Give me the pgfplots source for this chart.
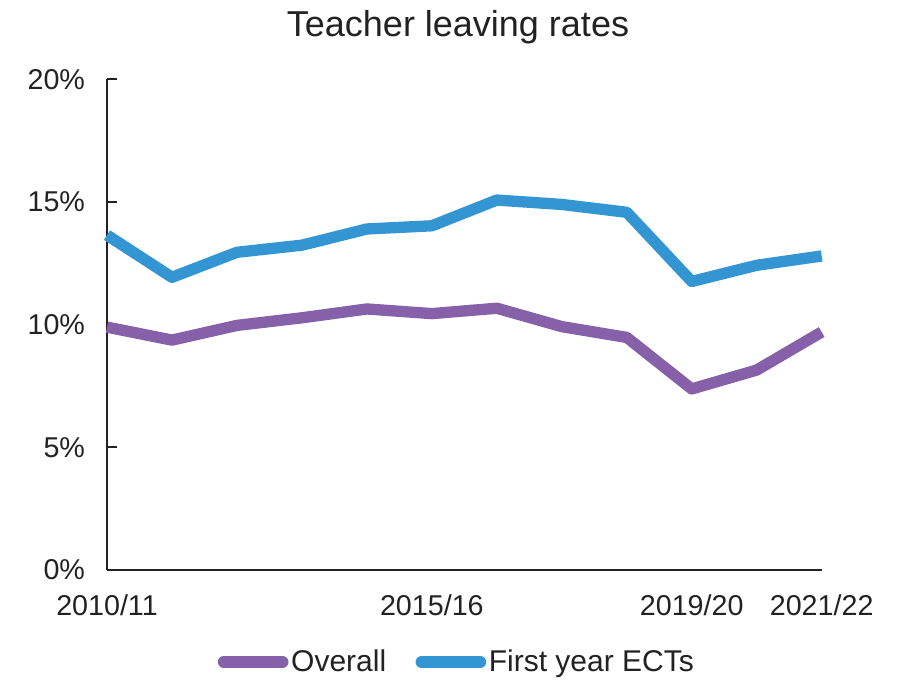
\documentclass[border=0pt]{standalone}
\usepackage{pgfplots}
\pgfplotsset{compat=1.18}
\usepackage{fontspec}
\setmainfont{Liberation Sans}
\definecolor{cpurple}{HTML}{8660A8}
\definecolor{cblue}{HTML}{3396D3}
\definecolor{axgray}{HTML}{222222}
\begin{document}
\begin{tikzpicture}[x=1pt,y=1pt]
\useasboundingbox (-80.25,-86.25) rectangle (593.25,427.5);
\begin{axis}[
  at={(0,0)}, anchor=origin,
  scale only axis,
  width=536pt, height=368pt,
  xmin=0, xmax=11, ymin=0, ymax=20,
  axis x line*=bottom, axis y line*=left,
  axis line style={line width=1.4pt, color=axgray, -},
  xtick={0,5,9,11},
  xticklabels={2010/11,2015/16,2019/20,2021/22},
  major x tick style={draw=none},
  ytick={0,5,10,15,20},
  yticklabel={\pgfmathprintnumber{\tick}\%},
  tick align=inside,
  major tick length=7.5pt,
  major y tick style={line width=1.4pt, color=axgray},
  /pgf/number format/assume math mode=true,
  tick label style={font=\fontsize{21.5}{24}\selectfont, text=axgray},
  yticklabel style={xshift=-13pt},
  xticklabel style={yshift=-15pt},
  clip=false,
  legend style={draw=none, fill=none, at={(0.49,-0.1875)}, anchor=center, legend columns=2,
    font=\fontsize{22.5}{25}\selectfont, text=axgray, inner sep=0pt,
    /tikz/every even column/.append style={column sep=20pt}},
  legend image code/.code={\draw[#1, line cap=round, line width=9pt] (0pt,0pt) -- (44pt,0pt);},
]
\addplot[cpurple, line width=8.5pt, line join=round] coordinates {
 (0,9.9) (1,9.37) (2,9.97) (3,10.28) (4,10.64) (5,10.45) (6,10.67) (7,9.92) (8,9.48) (9,7.38) (10,8.15) (11,9.7)};
\addlegendentry{Overall}
\addplot[cblue, line width=8.5pt, line join=round] coordinates {
 (0,13.65) (1,11.93) (2,12.95) (3,13.24) (4,13.9) (5,14.03) (6,15.08) (7,14.9) (8,14.58) (9,11.76) (10,12.42) (11,12.8)};
\addlegendentry{First year ECTs}
\end{axis}
\node[font=\fontsize{27}{30}\selectfont, text=axgray] at (263.25,407.25) {Teacher leaving rates};
\end{tikzpicture}
\end{document}
